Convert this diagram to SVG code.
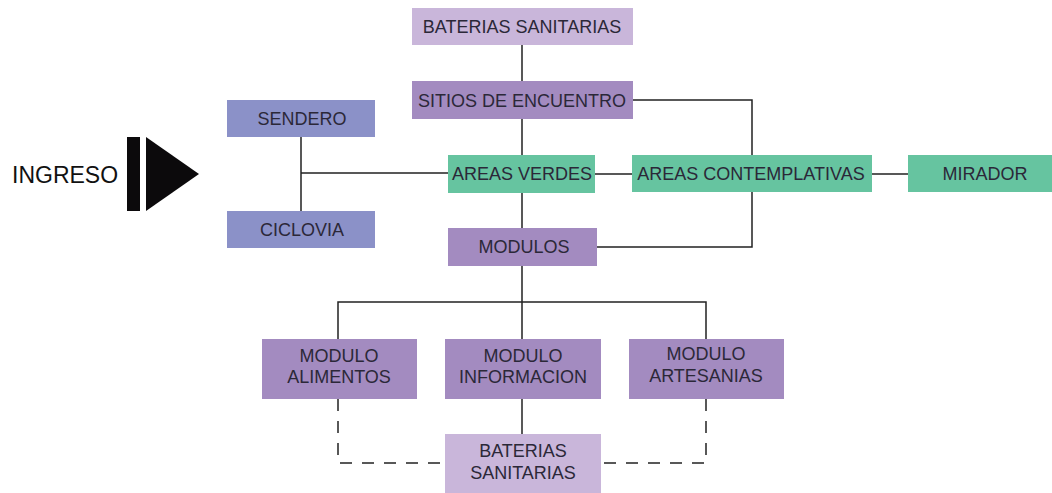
<svg xmlns="http://www.w3.org/2000/svg" width="1052" height="493" viewBox="0 0 1052 493">
<style>
.lp{fill:#c9b6da}
.mp{fill:#a38bc0}
.gr{fill:#66c4a0}
.bl{fill:#8b91c8}
.t{font-family:"Liberation Sans",Arial,sans-serif;font-size:18px;fill:#2b2838;text-anchor:middle}
.c{stroke:#222;stroke-width:1.5;fill:none}
.d{stroke:#222;stroke-width:1.5;fill:none;stroke-dasharray:12 10}
</style>
<rect width="1052" height="493" fill="#fff"/>
<g id="connectors">
<path class="c" d="M522 45V81M522 119V155M522 193V228M522 266V340"/>
<path class="c" d="M632 100H752V155M752 192V247H597"/>
<path class="c" d="M595 174H632M872 174H908"/>
<path class="c" d="M301 137V211M301 173H448"/>
<path class="c" d="M338 340V302H706V340"/>
<path class="c" d="M522 399V434"/>
<path class="d" d="M338 399V463H445"/>
<path class="d" d="M706 399V463H601"/>
</g>
<g id="ingreso">
<text x="12" y="183" font-family="'Liberation Sans',Arial,sans-serif" font-size="23" fill="#111">INGRESO</text>
<rect x="127" y="137" width="13" height="74" fill="#0c0a0c"/>
<polygon points="146,137 199,174 146,211" fill="#0c0a0c"/>
</g>
<g id="baterias-top"><rect class="lp" x="412" y="8" width="221" height="37"/><text class="t" x="522" y="33">BATERIAS SANITARIAS</text></g>
<g id="sitios"><rect class="mp" x="412" y="81" width="221" height="38"/><text class="t" x="522" y="106.5">SITIOS DE ENCUENTRO</text></g>
<g id="sendero"><rect class="bl" x="227" y="100" width="148" height="37"/><text class="t" x="302" y="125">SENDERO</text></g>
<g id="ciclovia"><rect class="bl" x="227" y="211" width="148" height="37"/><text class="t" x="302" y="236">CICLOVIA</text></g>
<g id="areas-verdes"><rect class="gr" x="448" y="155" width="147" height="38"/><text class="t" x="522" y="180">AREAS VERDES</text></g>
<g id="areas-contemplativas"><rect class="gr" x="632" y="155" width="240" height="37"/><text class="t" x="751" y="180">AREAS CONTEMPLATIVAS</text></g>
<g id="mirador"><rect class="gr" x="908" y="155" width="144" height="37"/><text class="t" x="985" y="180">MIRADOR</text></g>
<g id="modulos"><rect class="mp" x="448" y="228" width="149" height="38"/><text class="t" x="524" y="253">MODULOS</text></g>
<g id="modulo-alimentos"><rect class="mp" x="262" y="339" width="155" height="60"/><text class="t" x="339" y="362">MODULO</text><text class="t" x="339" y="383">ALIMENTOS</text></g>
<g id="modulo-informacion"><rect class="mp" x="445" y="339" width="156" height="60"/><text class="t" x="523" y="362">MODULO</text><text class="t" x="523" y="383">INFORMACION</text></g>
<g id="modulo-artesanias"><rect class="mp" x="629" y="339" width="155" height="60"/><text class="t" x="706" y="360">MODULO</text><text class="t" x="706" y="382">ARTESANIAS</text></g>
<g id="baterias-bottom"><rect class="lp" x="445" y="434" width="156" height="59"/><text class="t" x="523" y="457">BATERIAS</text><text class="t" x="523" y="479">SANITARIAS</text></g>
</svg>
